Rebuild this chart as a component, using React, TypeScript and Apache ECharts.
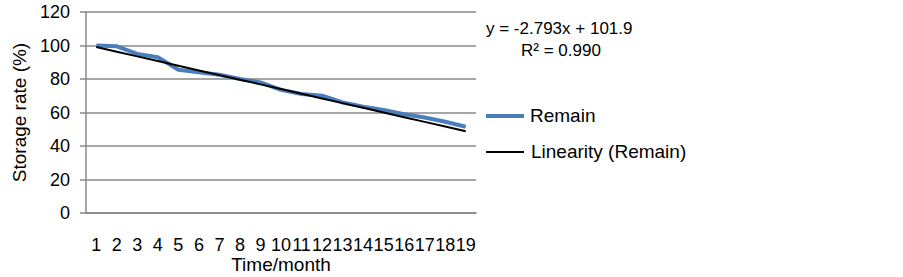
import React, { useEffect, useRef } from "react";
import * as echarts from "echarts";

const months = ["1","2","3","4","5","6","7","8","9","10","11","12","13","14","15","16","17","18","19"];
const remain = [100, 99.5, 95, 93, 85.5, 84, 82.5, 80, 78, 73.5, 71, 70, 66, 63.5, 61.5, 59, 57, 54.5, 51.5];
const linearity = [99.1, 96.3, 93.5, 90.7, 87.9, 85.1, 82.3, 79.6, 76.8, 74.0, 71.2, 68.4, 65.6, 62.8, 60.0, 57.2, 54.4, 51.6, 48.8];
const yTicks = [0, 20, 40, 60, 80, 100, 120];

const FONT = "Liberation Sans, Arial, sans-serif";

export default function App() {
  const ref = useRef<HTMLDivElement>(null);
  useEffect(() => {
    if (!ref.current) return;
    const chart = echarts.init(ref.current, null, { renderer: "svg" });
    chart.setOption({
      animation: false,
      grid: { left: 86, right: 427, top: 12, bottom: 64, containLabel: false, outerBoundsMode: "none" },
      xAxis: {
        type: "category",
        data: months,
        boundaryGap: true,
        name: "Time/month",
        nameLocation: "middle",
        nameGap: 42,
        nameMoveOverlap: false,
        nameTextStyle: { fontFamily: FONT, fontSize: 19, color: "#000" },
        axisLine: { lineStyle: { color: "#888", width: 1.5 } },
        axisTick: { show: false },
        axisLabel: { fontFamily: FONT, fontSize: 18, color: "#000", margin: 23, interval: 0 },
      },
      yAxis: {
        type: "value",
        min: yTicks[0],
        max: yTicks[yTicks.length - 1],
        interval: 20,
        name: "Storage rate (%)",
        nameLocation: "middle",
        nameGap: 57,
        nameMoveOverlap: false,
        nameTextStyle: { fontFamily: FONT, fontSize: 19, color: "#000" },
        axisLine: { show: true, lineStyle: { color: "#888", width: 1.5 } },
        axisTick: { show: true, length: 6, lineStyle: { color: "#888", width: 1.5 } },
        axisLabel: { fontFamily: FONT, fontSize: 18, color: "#000", margin: 16 },
        splitLine: { lineStyle: { color: "#888", width: 1.5 } },
      },
      series: [
        {
          name: "Remain",
          type: "line",
          data: remain,
          symbol: "none",
          lineStyle: { color: "#4a7ebb", width: 4 },
          z: 2,
        },
        {
          name: "Linearity (Remain)",
          type: "line",
          data: linearity,
          symbol: "none",
          lineStyle: { color: "#000", width: 2 },
          z: 3,
        },
      ],
      graphic: [
        { type: "text", left: 486, top: 20, style: { text: "y = -2.793x + 101.9", font: `17px ${FONT}`, fill: "#000" } },
        { type: "text", left: 521, top: 42, style: { text: "R² = 0.990", font: `17px ${FONT}`, fill: "#000" } },
        { type: "line", shape: { x1: 486, y1: 116, x2: 524, y2: 116 }, style: { stroke: "#4a7ebb", lineWidth: 4 } },
        { type: "text", left: 530, top: 106, style: { text: "Remain", font: `19px ${FONT}`, fill: "#000" } },
        { type: "line", shape: { x1: 486, y1: 152, x2: 524, y2: 152 }, style: { stroke: "#000", lineWidth: 2 } },
        { type: "text", left: 531, top: 142, style: { text: "Linearity (Remain)", font: `19px ${FONT}`, fill: "#000" } },
      ],
    });
    return () => chart.dispose();
  }, []);
  return <div ref={ref} style={{ width: 903, height: 277, position: "absolute", left: 0, top: 0 }} />;
}
